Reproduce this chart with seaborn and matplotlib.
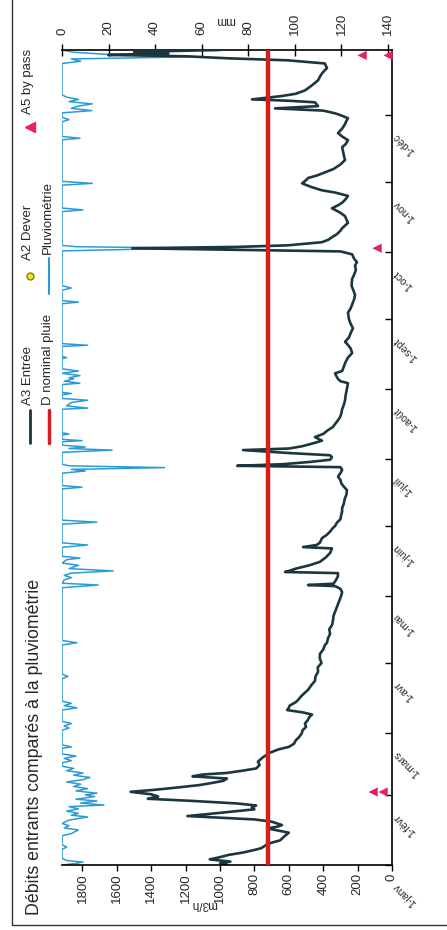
import matplotlib
matplotlib.use("Agg")
import matplotlib.pyplot as plt
import seaborn as sns
from matplotlib.lines import Line2D

flow_day = [0, 0.7, 1.5, 2.5, 3.5, 4.5, 5.5, 6.7, 7.5, 8.5, 9.5, 11, 12.5, 14.4, 15.6, 16.3,
            17.2, 17.8, 19.3, 20.3, 21.8, 22.5, 23, 24, 24.8, 25.7, 26.5, 27.4, 28.5, 29.5,
            30.5, 31.5, 32.6, 33.5, 34.5, 35.6, 36.5, 37.5, 38.5, 39.5, 40.3, 41, 42, 43,
            44.5, 46, 48, 50, 51.5, 52.6, 54, 55.5, 57, 58.6, 60, 61.5, 63, 64.5, 66, 67,
            68, 69, 70, 71, 72.5, 73.5, 75, 76.5, 78, 80, 82, 84, 86, 88, 90, 92, 94, 96,
            98, 99, 101, 103, 105, 107, 109, 111, 113, 115, 117, 118.5, 120, 121.5, 123,
            124.2, 124.7, 125.3, 127, 128.5, 130, 130.5, 131.2, 132, 133.5, 135, 137, 139,
            141, 141.6, 142.5, 143.5, 145.6, 147, 148.5, 150, 151, 152.5, 154, 156, 157.5,
            159, 161, 163, 165, 167, 168.5, 170, 171.5, 173, 174.5, 176, 177.2, 177.8,
            178.5, 179.5, 180.5, 181.6, 182.5, 183.5, 184.8, 185.5, 186.5, 188, 189,
            190.6, 192, 193.7, 195, 196.5, 198, 199.5, 201, 203, 205, 207, 209, 211, 213,
            214.6, 215.5, 216.5, 218, 219, 220, 222, 224, 226, 228, 230, 232, 233, 235,
            237, 239, 241, 243, 246, 248, 250, 252, 254, 256, 258, 261, 263, 265, 267,
            268.5, 270, 272, 273.3, 274, 274.7, 275.3, 276, 277.4, 278.5, 279.6, 281,
            282.5, 283.6, 285, 286, 287.5, 289, 290.5, 292.5, 294, 295, 296.5, 298, 299.5,
            300.5, 302, 303.6, 305, 306, 307, 308.5, 310, 312, 314, 316, 318, 319.7, 321,
            322.8, 324.5, 326, 328, 330, 331.5, 332.6, 334, 334.8, 336, 337, 337.5, 338,
            339, 339.7, 340.4, 341, 341.8, 342.5, 343.5, 345, 347, 349.5, 351, 352.6, 354,
            355, 356, 357, 358.4, 359.3, 360.2, 360.8, 361.5, 362.2, 363]
flow_m3h = [960, 1000, 940, 1060, 1000, 950, 870, 800, 760, 740, 720, 650, 630, 600, 680, 725,
            660, 640, 700, 800, 1190, 1100, 1030, 900, 800, 815, 790, 900, 1150, 1420,
            1360, 1400, 1520, 1380, 1250, 1120, 1050, 980, 960, 1160, 1100, 960, 870, 790,
            770, 780, 750, 710, 660, 600, 570, 560, 540, 525, 520, 500, 506, 490, 480, 465,
            520, 610, 600, 595, 560, 546, 530, 510, 488, 470, 448, 445, 430, 432, 410, 420,
            419, 400, 390, 378, 372, 360, 365, 348, 343, 340, 330, 320, 310, 302, 295, 290,
            300, 330, 488, 340, 325, 315, 314, 622, 590, 560, 480, 420, 385, 360, 349, 517,
            440, 420, 407, 380, 360, 345, 331, 320, 300, 295, 290, 290, 280, 275, 265, 262,
            280, 295, 300, 314, 300, 290, 300, 900, 640, 480, 360, 349, 360, 600, 866, 600,
            523, 450, 407, 448, 400, 372, 345, 330, 315, 302, 295, 290, 280, 273, 270, 265,
            260, 256, 300, 314, 325, 331, 290, 280, 270, 256, 232, 240, 260, 273, 250, 240,
            227, 240, 250, 256, 240, 230, 220, 215, 225, 235, 232, 220, 210, 215, 204, 220,
            232, 300, 900, 1510, 900, 605, 407, 370, 349, 320, 300, 290, 270, 256, 265, 273,
            300, 349, 310, 290, 270, 256, 330, 407, 470, 523, 500, 488, 440, 390, 340, 300,
            273, 280, 285, 290, 270, 256, 290, 314, 290, 273, 265, 256, 300, 331, 400, 680,
            550, 430, 440, 448, 600, 814, 720, 640, 560, 506, 470, 430, 420, 407, 390, 378,
            385, 390, 605, 953, 1200, 1650, 1300, 1500, 1000]

rain_day = [0, 0.7, 1.3, 2, 3, 7, 8, 9, 13, 14, 15.6, 16.5, 17.5, 18.5, 20, 21.4, 22.2, 23, 24,
            25, 26, 26.7, 27.6, 28.5, 29.3, 30.5, 31.2, 32, 33, 34, 35, 36, 37, 38, 39, 40,
            41, 42, 43, 44, 45.5, 46.5, 47.5, 48.5, 49.5, 52, 52.6, 53.5, 60, 61, 62, 63, 64,
            69, 70, 71, 72, 73, 83, 84, 85, 98, 99, 100, 123.5, 124.7, 125.5, 127, 128, 129,
            130, 131, 132, 133.5, 134.5, 136, 136.7, 137.5, 141.5, 142.5, 143.5, 151.8,
            152.7, 153.6, 167.5, 168.3, 169, 174.5, 175.5, 176.2, 177, 177.8, 178.5, 183.8,
            184.8, 185.5, 186.2, 187, 188.5, 189, 189.6, 191.5, 192, 192.5, 203, 203.5,
            204.5, 206, 207, 207.8, 209.5, 210, 210.5, 214, 214.6, 215.5, 216.5, 217, 218,
            219, 220, 221, 225.5, 226, 226.5, 231, 231.5, 232.2, 250, 250.7, 251.4, 256, 257,
            258, 273.5, 274, 274.7, 275.4, 276, 291, 291.8, 292.6, 302.8, 303.6, 304.5, 323,
            323.7, 324.5, 331, 332, 333, 335, 336, 337, 338, 339, 340, 341, 342, 343, 357,
            358, 359, 360, 361, 362, 363]
rain_mm = [0, 6, 9, 2, 0, 0, 2, 0, 0, 4, 7, 1, 3, 0, 3, 11, 4, 7, 2,
           7, 3, 18, 8, 15, 6, 14, 10, 15, 6, 11, 5, 8, 2, 9, 12, 5,
           9, 2, 5, 0, 0, 4, 1, 6, 0, 0, 4, 0, 0, 3, 1, 4, 0,
           0, 6.4, 1, 4, 0, 0, 2.5, 0, 0, 6.4, 0, 0, 15.5, 0, 1, 4, 1,
           4, 22, 3, 7, 0, 2, 7.7, 0, 0, 11, 0, 0,
           15, 0, 0, 8.6, 0, 0, 10, 4, 44, 3, 0, 0,
           21.5, 3, 10, 0, 0, 8.6, 0, 0, 3, 0, 0, 11,
           2, 4, 11, 0, 0, 4, 0, 0, 7.7, 1, 5, 3, 7.7,
           0, 7, 0, 0, 2, 0, 0, 11, 0, 0, 7, 0, 0, 4,
           0, 0, 20, 59, 6, 0, 0, 9, 0, 0, 13, 0, 0,
           7.7, 0, 0, 3, 0, 0, 12.8, 4, 7, 13, 3, 7, 2, 0, 0,
           8, 4, 58, 20, 5, 0]

bypass_day = [32.5, 32.5, 274.7, 360.6, 360.6]
bypass_m3h = [110, 52, 87, 174, 23]

d_nominal = 720

month_days = [0, 31, 59, 90, 120, 151, 181, 212, 243, 273, 304, 334]
month_labels = ['1-janv', '1-févr', '1-mars', '1-avr', '1-mai', '1-juin',
                '1-juil', '1-août', '1-sept', '1-oct', '1-nov', '1-déc']
flow_ticks = list(range(0, 1801, 200))
rain_ticks = list(range(0, 141, 20))

DARK = '#1c3640'
BLUE = '#2b9bd6'
RED = '#d51f1f'
PINK = '#e0226e'

sns.set_style("white")
plt.rcParams['font.family'] = ['Liberation Sans', 'DejaVu Sans']

W, H = 447, 930


def fx(px):
    return px / W


def fy(py):
    return 1 - py / H


fig = plt.figure(figsize=(W / 100, H / 100), dpi=100)
ax = fig.add_axes([fx(62), fy(865), fx(392) - fx(62), fy(50) - fy(865)])
ax2 = ax.twiny()

# the chart is drawn turned a quarter turn: flow runs right-to-left, dates upward
sns.lineplot(x=rain_mm, y=rain_day, sort=False, estimator=None, ax=ax2,
             color=BLUE, lw=1.1)
sns.lineplot(x=flow_m3h, y=flow_day, sort=False, estimator=None, ax=ax,
             color=DARK, lw=1.9)
ax.axvline(d_nominal, color=RED, lw=3.2, zorder=5)
sns.scatterplot(x=bypass_m3h, y=bypass_day, marker='<', s=45, color=PINK,
                edgecolor='none', ax=ax, zorder=6, clip_on=False)

ax.set_zorder(ax2.get_zorder() + 1)
ax.patch.set_visible(False)

ax.set_xlim(1919, 0)
ax.set_ylim(0, 363)
ax2.set_xlim(0, 141.7)
ax.set_xlabel('')
ax.set_ylabel('')
ax2.set_xlabel('')

ax.set_xticks(flow_ticks)
ax.tick_params(axis='x', bottom=True, top=False, direction='out', length=4,
               width=1, labelsize=9.5, labelrotation=90, pad=2, color='black')
ax.yaxis.tick_right()
ax.set_yticks(month_days)
ax.set_yticklabels([])
ax.tick_params(axis='y', right=True, left=False, direction='in', length=5,
               width=1, color='black')
ax2.set_xticks(rain_ticks)
ax2.tick_params(axis='x', top=True, bottom=False, direction='inout', length=8,
                width=1, labelsize=9.5, labelrotation=90, pad=7, color='black')

for s in ['left', 'top']:
    ax.spines[s].set_visible(False)
for s in ['bottom', 'right']:
    ax.spines[s].set_color('black')
    ax.spines[s].set_linewidth(1.2)
for s in ['left', 'right', 'bottom']:
    ax2.spines[s].set_visible(False)
ax2.spines['top'].set_color('black')
ax2.spines['top'].set_linewidth(1.2)

for d, lab in zip(month_days, month_labels):
    ax.annotate(lab, xy=(1, d), xycoords=('axes fraction', 'data'),
                xytext=(2, -14), textcoords='offset points', rotation=135,
                rotation_mode='anchor', ha='right', va='center', fontsize=7.5,
                annotation_clip=False)

# unit labels
fig.text(fx(204), fy(904), 'm3/h', rotation=180, ha='center', va='center', fontsize=8.5)
fig.text(fx(225), fy(20), 'mm', rotation=180, ha='center', va='center', fontsize=8.5)

# title
fig.text(fx(35), fy(915), 'Débits entrants comparés à la pluviométrie',
         rotation=90, ha='center', va='bottom', fontsize=12.8)

# legend, drawn by hand since it is turned with the chart
fig.add_artist(Line2D([fx(30), fx(30)], [fy(443), fy(410)], color=DARK, lw=2))
fig.text(fx(28), fy(405), 'A3 Entrée', rotation=90, ha='center', va='bottom', fontsize=9.5)
fig.add_artist(Line2D([fx(49), fx(49)], [fy(443), fy(410)], color=RED, lw=2.5))
fig.text(fx(48), fy(405), 'D nominal pluie', rotation=90, ha='center', va='bottom', fontsize=9.5)
fig.add_artist(Line2D([fx(30)], [fy(276)], marker='o', ms=5, mfc='#f2e61c',
                      mec='#8a7d00', ls='none'))
fig.text(fx(28), fy(260), 'A2 Dever', rotation=90, ha='center', va='bottom', fontsize=9.5)
fig.add_artist(Line2D([fx(49), fx(49)], [fy(294), fy(258)], color=BLUE, lw=1.5))
fig.text(fx(48), fy(254), 'Pluviométrie', rotation=90, ha='center', va='bottom', fontsize=9.5)
fig.add_artist(Line2D([fx(30)], [fy(127)], marker='<', ms=7, color=PINK, ls='none'))
fig.text(fx(28), fy(114), 'A5 by pass', rotation=90, ha='center', va='bottom', fontsize=9.5)

# page frame
fig.add_artist(Line2D([fx(12), fx(12)], [fy(925), 1], color='#333333', lw=1))
fig.add_artist(Line2D([fx(12), 1], [fy(925), fy(925)], color='#333333', lw=1))

fig.savefig('out.png', dpi=100)
